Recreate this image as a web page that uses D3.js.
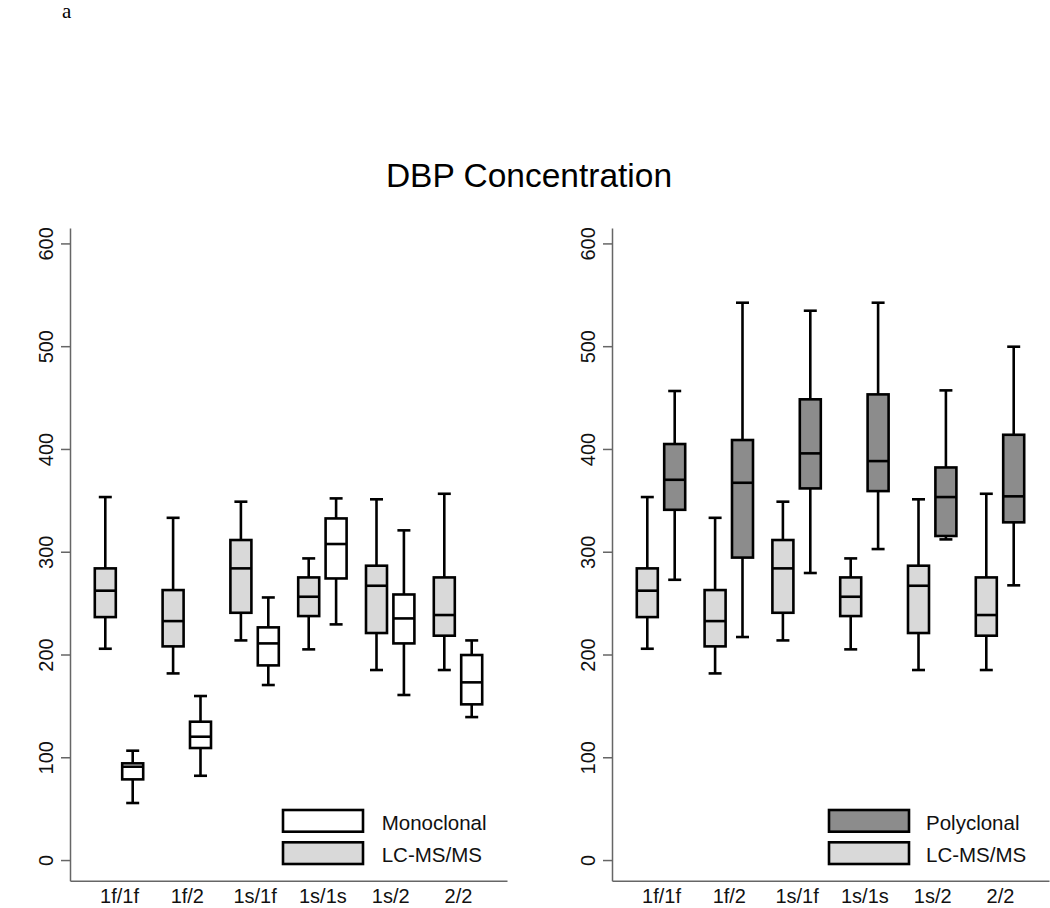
<!DOCTYPE html>
<html>
<head>
<meta charset="utf-8">
<script src="https://cdn.jsdelivr.net/npm/d3@7"></script>
<style>
  html, body { margin: 0; padding: 0; background: #fff; }
  svg { display: block; }
  text { font-family: "Liberation Sans", Arial, sans-serif; }
</style>
</head>
<body>
<svg id="chart" width="1050" height="908"></svg>
<script>
// ---- data ----
const categories = ["1f/1f", "1f/2", "1s/1f", "1s/1s", "1s/2", "2/2"];
const yTicks = [0, 100, 200, 300, 400, 500, 600];

// LC-MS/MS (same in both panels)
const lcmsLow  = [205.6, 181.6, 213.7, 205.0, 184.9, 184.9];
const lcmsQ1   = [236.4, 207.9, 240.6, 237.4, 220.9, 218.3];
const lcmsMed  = [262.1, 232.5, 283.8, 256.2, 266.9, 238.4];
const lcmsQ3   = [283.8, 262.7, 311.4, 275.0, 286.4, 275.0];
const lcmsHigh = [353.2, 333.0, 348.7, 293.5, 351.0, 356.4];

// Monoclonal
const monoLow  = [55.5, 82.0, 170.3, 229.3, 160.6, 139.1];
const monoQ1   = [78.5, 109.0, 189.4, 274.0, 210.8, 151.5];
const monoMed  = [90.8, 120.0, 210.8, 307.5, 235.1, 172.9];
const monoQ3   = [94.1, 134.6, 226.4, 332.4, 258.4, 199.5];
const monoHigh = [106.4, 159.6, 255.5, 351.9, 320.8, 213.7];

// Polyclonal
const polyLow  = [272.7, 217.0, 279.3, 302.6, 312.0, 267.3];
const polyQ1   = [340.8, 294.3, 361.6, 359.0, 315.3, 328.6];
const polyMed  = [370.0, 367.1, 395.7, 388.2, 353.2, 353.9];
const polyQ3   = [404.8, 408.7, 448.3, 453.1, 382.0, 413.8];
const polyHigh = [456.4, 542.3, 534.5, 542.3, 457.0, 499.5];

function stats(low, q1, med, q3, high) {
  return categories.map((c, i) => ({cat: c, low: low[i], q1: q1[i], med: med[i], q3: q3[i], high: high[i]}));
}
const lcms = stats(lcmsLow, lcmsQ1, lcmsMed, lcmsQ3, lcmsHigh);
const mono = stats(monoLow, monoQ1, monoMed, monoQ3, monoHigh);
const poly = stats(polyLow, polyQ1, polyMed, polyQ3, polyHigh);

// ---- layout ----
const svg = d3.select("#chart");
const yTop = 228, yBottom = 880.7;
const y = d3.scaleLinear().domain([-20.1, 615]).range([yBottom, yTop]);

const LIGHT = "#d9d9d9", DARK = "#8c8c8c", WHITE = "#ffffff";
const boxW = 21, capW = 13, offset = 13.7, sw = 2.6;

svg.append("text")
  .attr("x", 62).attr("y", 18)
  .style("font-family", "'Liberation Serif', 'Times New Roman', serif")
  .style("font-size", "21px")
  .text("a");

svg.append("text")
  .attr("x", 529).attr("y", 187)
  .attr("text-anchor", "middle")
  .style("font-size", "33.5px")
  .text("DBP Concentration");

const panels = [
  {x0: 70, x1: 507, series: [{data: lcms, fill: LIGHT, dx: -offset}, {data: mono, fill: WHITE, dx: offset}],
   legend: {bx: 283, tx: 381.7, items: [{label: "Monoclonal", fill: WHITE}, {label: "LC-MS/MS", fill: LIGHT}]}},
  {x0: 612, x1: 1049, series: [{data: lcms, fill: LIGHT, dx: -offset}, {data: poly, fill: DARK, dx: offset}],
   legend: {bx: 829, tx: 926, items: [{label: "Polyclonal", fill: DARK}, {label: "LC-MS/MS", fill: LIGHT}]}}
];

panels.forEach(p => {
  const x = d3.scalePoint().domain(categories).range([p.x0, p.x1]).padding(0.7227);
  const g = svg.append("g");

  // y axis
  const ya = g.append("g")
    .attr("transform", `translate(${p.x0},0)`)
    .call(d3.axisLeft(y).tickValues(yTicks).tickSize(9).tickSizeOuter(0));
  ya.select(".domain").attr("stroke", "#666").attr("stroke-width", 1.5);
  ya.selectAll(".tick line").attr("stroke", "#666").attr("stroke-width", 1.5);
  ya.selectAll(".tick text")
    .attr("x", null).attr("dy", null)
    .attr("transform", "translate(-17,0) rotate(-90)")
    .attr("text-anchor", "middle")
    .attr("fill", "#111")
    .style("font-size", "20px");

  // x axis
  const xa = g.append("g")
    .attr("transform", `translate(0,${yBottom})`)
    .call(d3.axisBottom(x).tickSize(0).tickSizeOuter(0));
  xa.select(".domain").attr("stroke", "#666").attr("stroke-width", 1.5);
  xa.selectAll(".tick text")
    .attr("y", 22.5).attr("dy", null)
    .attr("fill", "#111")
    .style("font-size", "20px");

  // boxes
  p.series.forEach(s => {
    const bg = g.append("g").selectAll("g").data(s.data).join("g")
      .attr("transform", d => `translate(${x(d.cat) + s.dx},0)`);
    bg.append("line")
      .attr("x1", 0).attr("x2", 0)
      .attr("y1", d => y(d.high)).attr("y2", d => y(d.q3))
      .attr("stroke", "#000").attr("stroke-width", sw);
    bg.append("line")
      .attr("x1", 0).attr("x2", 0)
      .attr("y1", d => y(d.q1)).attr("y2", d => y(d.low))
      .attr("stroke", "#000").attr("stroke-width", sw);
    bg.append("line")
      .attr("x1", -capW / 2).attr("x2", capW / 2)
      .attr("y1", d => y(d.high)).attr("y2", d => y(d.high))
      .attr("stroke", "#000").attr("stroke-width", sw);
    bg.append("line")
      .attr("x1", -capW / 2).attr("x2", capW / 2)
      .attr("y1", d => y(d.low)).attr("y2", d => y(d.low))
      .attr("stroke", "#000").attr("stroke-width", sw);
    bg.append("rect")
      .attr("x", -boxW / 2).attr("width", boxW)
      .attr("y", d => y(d.q3)).attr("height", d => y(d.q1) - y(d.q3))
      .attr("fill", s.fill).attr("stroke", "#000").attr("stroke-width", sw);
    bg.append("line")
      .attr("x1", -boxW / 2).attr("x2", boxW / 2)
      .attr("y1", d => y(d.med)).attr("y2", d => y(d.med))
      .attr("stroke", "#000").attr("stroke-width", sw);
  });

  // legend
  p.legend.items.forEach((it, i) => {
    const ly = 810 + i * 32.3;
    g.append("rect")
      .attr("x", p.legend.bx).attr("y", ly)
      .attr("width", 80).attr("height", 21.7)
      .attr("fill", it.fill).attr("stroke", "#000").attr("stroke-width", sw);
    g.append("text")
      .attr("x", p.legend.tx).attr("y", ly + 19.5)
      .attr("fill", "#111")
      .style("font-size", "20.5px")
      .text(it.label);
  });
});
</script>
</body>
</html>
